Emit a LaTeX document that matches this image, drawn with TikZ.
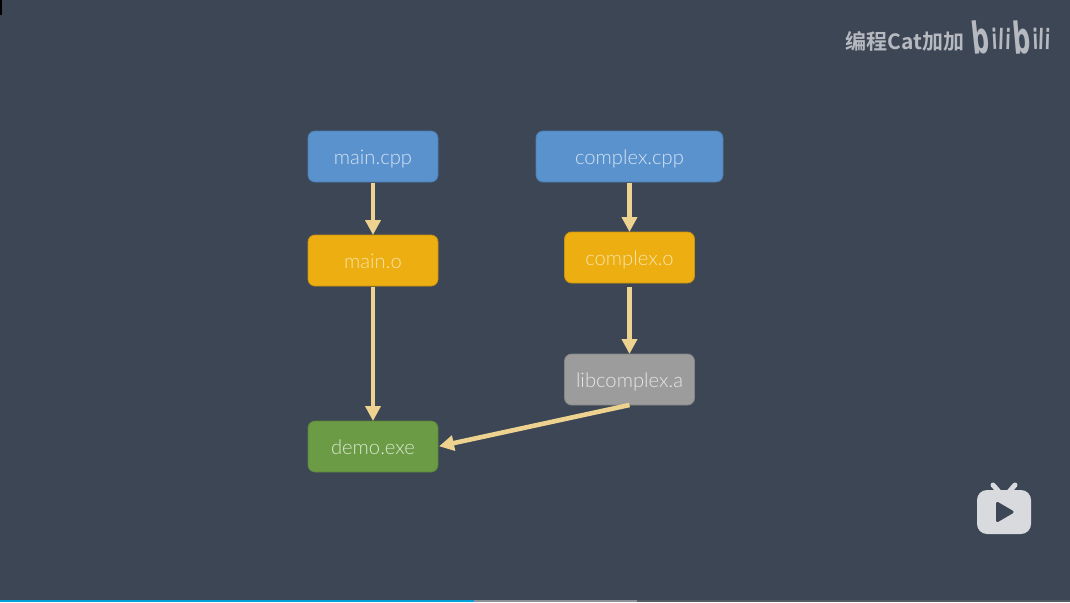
\documentclass[tikz,border=0pt]{standalone}
\usepackage{fontspec}
\setmainfont{Lato Light}
\newfontfamily\cjkfont{Noto Sans CJK SC}[BoldFont={* Bold}]
\newfontfamily\logofont{DejaVu Sans}
\usepackage{tikz}
\usetikzlibrary{positioning,arrows.meta,calc}
\definecolor{slidebg}{HTML}{3C4655}
\definecolor{srcblue}{HTML}{5A92CD}
\definecolor{objorange}{HTML}{ECAE10}
\definecolor{exegreen}{HTML}{6B9C45}
\definecolor{libgray}{HTML}{9C9C9C}
\definecolor{linkyellow}{HTML}{EDD38F}
\definecolor{markgray}{HTML}{B6B9BF}
\definecolor{tvgray}{HTML}{D8DADE}
\definecolor{barblue}{HTML}{00A1D6}
\definecolor{bargray}{HTML}{8E9298}
\definecolor{bardark}{HTML}{555A63}
\tikzset{
 file/.style={rectangle,rounded corners=7pt,draw=#1!85!black,fill=#1,line width=0.8pt,
   minimum width=130pt,minimum height=51pt,inner sep=0pt,outer sep=0pt,
   text height=15pt,text depth=0pt,
   font=\fontsize{20.2}{22}\selectfont},
 source/.style={file=srcblue,text=white!75!srcblue},
 object/.style={file=objorange,text=white!65!objorange},
 target/.style={file=exegreen,text=white!75!exegreen},
 archive/.style={file=libgray,text=white!75!libgray},
 link/.style={-{Triangle[width=15pt,length=15pt]},draw=linkyellow,line width=4.6pt,shorten <=1pt},
 logo/.style={text=markgray,inner sep=0pt,font=\logofont\bfseries}}
\begin{document}
\begin{tikzpicture}[x=1pt,y=-1pt,node distance=53pt]
  \fill[slidebg] (0,0) rectangle (1070,602);
  \useasboundingbox (0,0) rectangle (1070,602);
  \fill[black] (0,0) rectangle (2,15);
  % build graph
  \node[source] (maincpp) at (373,156.5) {main.cpp};
  \node[object] (maino) [below=53pt of maincpp] {main.o};
  \node[target] (demo) [below=135pt of maino] {demo.exe};
  \node[source,minimum width=187pt] (complexcpp) at (629.5,156.5) {complex.cpp};
  \node[object] (complexo) [below=50pt of complexcpp] {complex.o};
  \node[archive] (libcomplex) [below=71pt of complexo] {libcomplex.a};
  \draw[link] (maincpp) to (maino);
  \draw[link] (maino) to (demo);
  \draw[link] (complexcpp) to (complexo);
  \draw[link,shorten <=4pt] (complexo) to (libcomplex);
  \draw[link,shorten <=0pt,shorten >=1pt] (libcomplex.south) to (demo.east);
  % watermark
  \node[text=markgray,inner sep=0pt,font=\cjkfont\bfseries\fontsize{21}{24}\selectfont] (author) at (905,41) {编程Cat加加};
  \foreach \ch/\px/\py/\sz/\ang [count=\i] in {b/980.5/37/44/6,i/994.5/39/28/3,l/1001/39/28/-2,i/1008/39/28/-2,b/1021.5/37/44/5,i/1035.5/39/28/2,l/1041/39/28/-2,i/1047.5/39/28/-2}
    \node[logo,font=\logofont\bfseries\fontsize{\sz}{\sz}\selectfont,rotate=\ang,xscale=0.55] (logo\i) at (\px,\py) {\ch};
  % tv icon
  \draw[tvgray,line width=5pt,line cap=round] (993,485) -- (1000,493) (1015,485) -- (1008,493);
  \fill[tvgray,rounded corners=10pt] (977,490) rectangle (1031,534);
  \fill[slidebg,draw=slidebg,line width=3pt,line join=round] (997.5,503.5) -- (1012,512) -- (997.5,520.5) -- cycle;
  % progress bar
  \fill[bardark] (637,600) rectangle (1070,602);
  \fill[bargray] (474,600) rectangle (637,602);
  \fill[barblue] (0,600) rectangle (474,602);
\end{tikzpicture}
\end{document}
